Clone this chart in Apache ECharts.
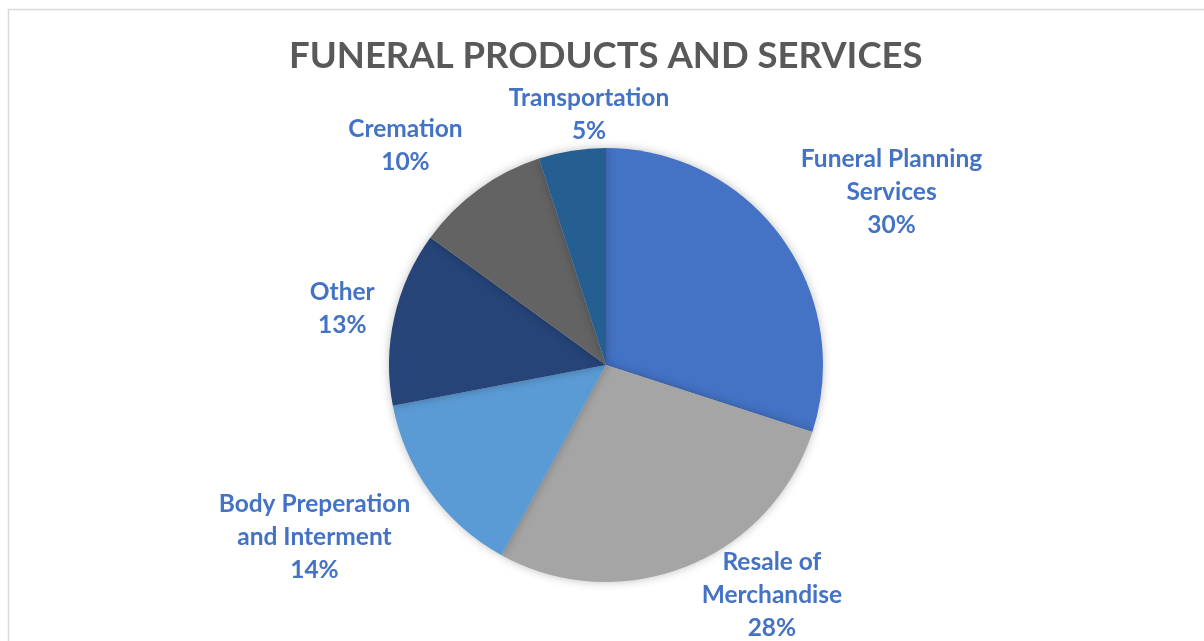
<!DOCTYPE html>
<html><head><meta charset="utf-8">
<script src="https://cdn.jsdelivr.net/npm/echarts@6/dist/echarts.min.js"></script>
<style>html,body{margin:0;padding:0;background:#fff}#c{width:1204px;height:641px}</style>
</head><body><div id="c"></div>
<script>
const titleText = 'FUNERAL PRODUCTS AND SERVICES';
const categories = ['Funeral Planning\nServices', 'Resale of\nMerchandise', 'Body Preperation\nand Interment', 'Other', 'Cremation', 'Transportation'];
const values = [30, 28, 14, 13, 10, 5];
const colors = ['#4472C4', '#A5A5A5', '#5B9BD5', '#264478', '#636363', '#255E91'];
// label offsets from the slice's outer mid-point (layout only)
const labelOffsets = [[110, -45], [86, 28], [-116, 45], [-52, -9], [-73, -44], [17, -36]];

const CX = 606, CY = 365, R = 217;
const total = values.reduce((a, b) => a + b, 0);
function midAngle(i) {
  let s = 0; for (let k = 0; k < i; k++) s += values[k];
  return (s + values[i] / 2) / total * 2 * Math.PI;
}
const chart = echarts.init(document.getElementById('c'));
chart.setOption({
  animation: false,
  title: {
    text: titleText, left: 284, top: 33,
    textStyle: { fontFamily: 'Lato', fontWeight: 'bold', fontSize: 36.5, color: '#595959' }
  },
  graphic: [{ type: 'rect', left: 6, top: 7, shape: { width: 1400, height: 800 }, style: { fill: 'none', stroke: '#D9D9D9', lineWidth: 1.5 }, silent: true, z: -1 }],
  series: [{
    type: 'pie',
    center: [CX, CY], radius: R,
    startAngle: 90, clockwise: true,
    data: categories.map((c, i) => ({ name: c, value: values[i], itemStyle: { color: colors[i] } })),
    itemStyle: { shadowBlur: 10, shadowColor: 'rgba(0,0,0,0.25)' },
    label: {
      show: true, position: 'outside',
      formatter: p => p.name + '\n' + p.value + '%',
      fontFamily: 'Lato', fontWeight: 'bold', fontSize: 24.5, lineHeight: 33, color: '#4472C4', align: 'center'
    },
    labelLine: { show: false },
    labelLayout: p => {
      const a = midAngle(p.dataIndex);
      const o = labelOffsets[p.dataIndex];
      return { x: CX + R * Math.sin(a) + o[0], y: CY - R * Math.cos(a) + o[1], align: 'center', verticalAlign: 'middle' };
    },
    emphasis: { disabled: true }
  }]
});
</script></body></html>
